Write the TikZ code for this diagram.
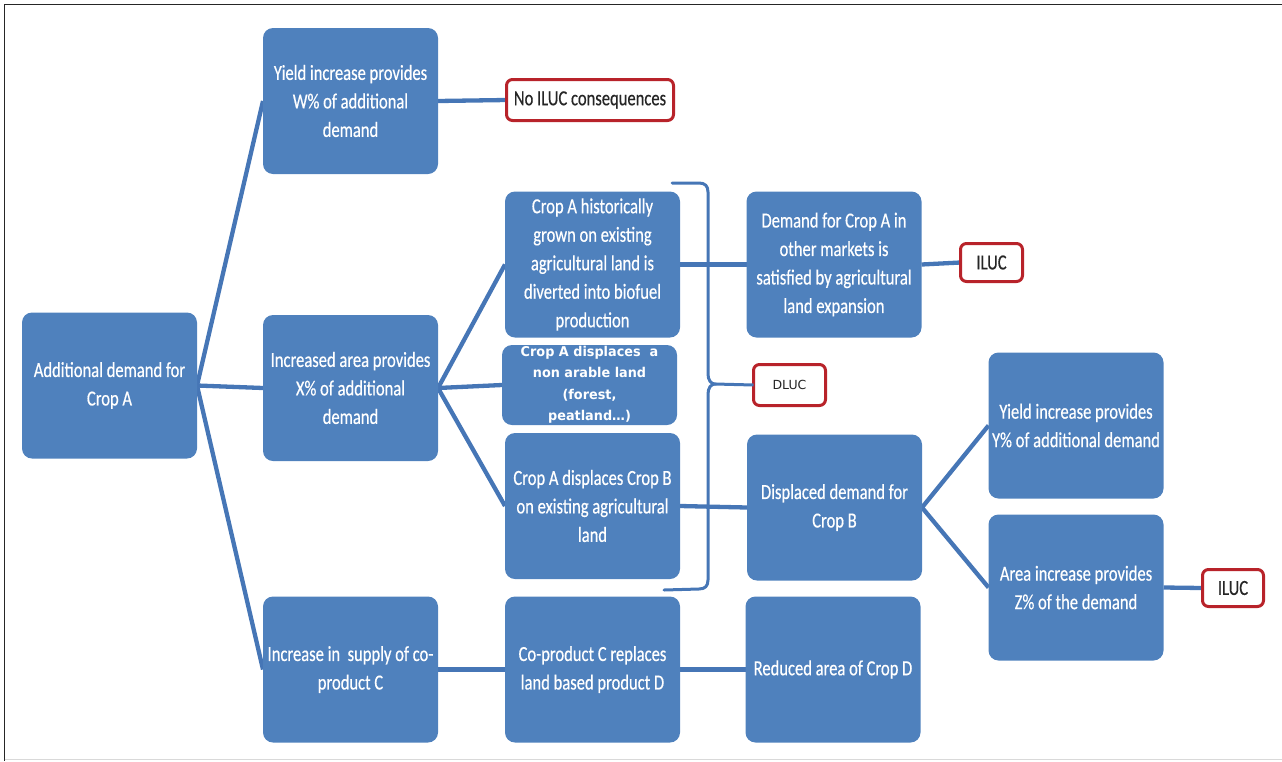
\documentclass[tikz,border=0pt]{standalone}
\usepackage{fontspec}
\setmainfont{Carlito}
\newfontfamily\calib{Carlito}[FakeStretch=0.77,FakeBold=0.4]
\newfontfamily\dvbold{DejaVu Sans Bold}[FakeStretch=0.95]
\newfontfamily\dvreg{DejaVu Sans}
\usetikzlibrary{backgrounds}
\definecolor{boxblue}{HTML}{4F81BD}
\definecolor{linkblue}{HTML}{4676B6}
\definecolor{redb}{HTML}{B8232A}
\definecolor{darktext}{HTML}{262626}
\tikzset{
  bluebox/.style={rectangle, rounded corners=10pt, fill=boxblue, draw=none, text=white,
    minimum width=175pt, minimum height=146pt, inner sep=0pt, outer sep=0pt, align=center,
    font=\calib\fontsize{21.5}{28.5}\selectfont},
  boldbox/.style={bluebox, minimum height=80pt, font=\dvbold\fontsize{13.5}{21.5}\selectfont},
  redbox/.style={rectangle, rounded corners=6pt, fill=white, draw=redb, line width=3pt,
    inner sep=0pt, outer sep=0pt, align=center, text=darktext,
    font=\calib\fontsize{21.5}{26}\selectfont},
  link/.style={draw=linkblue, line width=4.3pt},
  bracestyle/.style={draw=linkblue, line width=3pt, line cap=round}
}
\begin{document}
\begin{tikzpicture}[x=1pt, y=-1pt]
\useasboundingbox (0,0) rectangle (1282,761);
% frame
\draw[black!85, line width=1.6pt] (1282,4.5) -- (4.5,4.5) -- (4.5,761);
\draw[black!15, line width=1.5pt] (4.5,759.5) -- (1282,759.5);

% boxes
\node[bluebox] (root) at (109.5,385.5) {Additional demand for\\Crop A};
\node[bluebox] (yieldW) at (350.5,101) {Yield increase provides\\W\% of additional\\demand};
\node[bluebox] (incArea) at (350.5,388) {Increased area provides\\X\% of additional\\demand};
\node[bluebox] (incSupply) at (350.5,669.5) {Increase in\ \ supply of co-\\product C};
\node[bluebox] (cropAhist) at (592.5,264.5) {Crop A historically\\grown on existing\\agricultural land is\\diverted into biofuel\\production};
\node[boldbox] (nonarable) at (589.5,385) {Crop A displaces\ \ a\\non arable land\\(forest,\\peatland…)};
\node[bluebox] (cropAB) at (592.5,506) {Crop A displaces Crop B\\on existing agricultural\\land};
\node[bluebox] (coprod) at (592.5,669.5) {Co-product C replaces\\land based product D};
\node[bluebox] (demandA) at (834,264.5) {Demand for Crop A in\\other markets is\\satisfied by agricultural\\land expansion};
\node[bluebox] (displaced) at (834.5,507.5) {Displaced demand for\\Crop B};
\node[bluebox] (reduced) at (833,669.5) {Reduced area of Crop D};
\node[bluebox] (yieldY) at (1076,425.5) {Yield increase provides\\Y\% of additional demand};
\node[bluebox] (areaZ) at (1076,587.5) {Area increase provides\\Z\% of the demand};

% red boxes
\node[redbox, minimum width=167pt, minimum height=41pt] (noiluc) at (590,100) {No ILUC consequences};
\node[redbox, minimum width=62pt, minimum height=38pt] (iluc1) at (991.5,262.5) {ILUC};
\node[redbox, minimum width=72pt, minimum height=41pt, font=\dvreg\fontsize{12.5}{15}\selectfont] (dluc) at (789.5,385) {DLUC};
\node[redbox, minimum width=61pt, minimum height=37pt] (iluc2) at (1233,588) {ILUC};

% brace
\coordinate (bracetip) at (715,384);
\coordinate (bracetop) at (672,183);
\coordinate (bracebot) at (664,590);

\begin{scope}[on background layer]
\draw[link] (root.east) -- (yieldW.west);
\draw[link] (root.east) -- (incArea.west);
\draw[link] (root.east) -- (incSupply.west);
\draw[link] (yieldW.east) -- (noiluc.west);
\draw[link] (incArea.east) -- (cropAhist.west);
\draw[link] (incArea.east) -- (nonarable.west);
\draw[link] (incArea.east) -- (cropAB.west);
\draw[link] (cropAhist.east) -- (demandA.west);
\draw[link] (demandA.east) -- (iluc1.west);
\draw[link] (cropAB.east) -- (displaced.west);
\draw[link] (displaced.east) -- (yieldY.west);
\draw[link] (displaced.east) -- (areaZ.west);
\draw[link] (areaZ.east) -- (iluc2.west);
\draw[link] (incSupply.east) -- (coprod.west);
\draw[link] (coprod.east) -- (reduced.west);
\end{scope}

\draw[bracestyle] (bracetop) -- (699,183) .. controls (705,183) and (708,186) .. (708,192)
  -- (708,374) .. controls (708,380) and (711,384) .. (bracetip)
  .. controls (711,384) and (708,388) .. (708,394)
  -- (708,580) .. controls (708,586) and (705,589) .. (699,589) -- (bracebot);
\draw[link, line width=3pt] (bracetip) -- (dluc.west);
\end{tikzpicture}
\end{document}
